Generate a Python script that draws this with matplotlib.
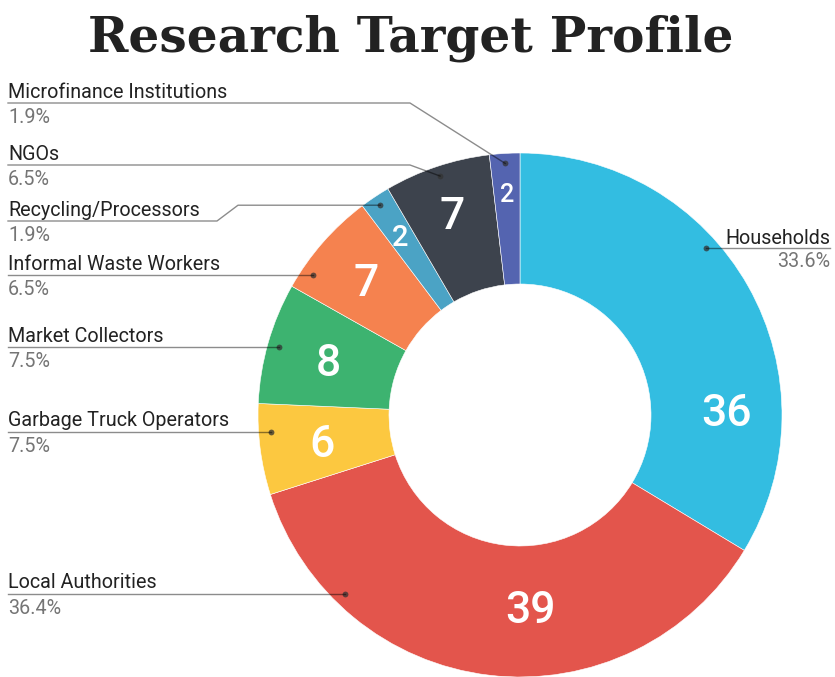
"""Donut chart: research target profile with side callouts."""
import numpy as np
import matplotlib
matplotlib.use("Agg")
import matplotlib.pyplot as plt

categories = ["Households", "Local Authorities", "Garbage Truck Operators",
              "Market Collectors", "Informal Waste Workers", "Recycling/Processors",
              "NGOs", "Microfinance Institutions"]
counts = [36, 39, 6, 8, 7, 2, 7, 2]
pct_labels = ["33.6%", "36.4%", "7.5%", "7.5%", "6.5%", "1.9%", "6.5%", "1.9%"]
colors = ["#33bde1", "#e3554c", "#fcc840", "#3db370", "#f5824f", "#4ba3c5",
          "#3d434d", "#5464b0"]

W, H = 835, 677
CX, CY, R = 520, H - 415, 262
RING = 131

# callout layout, image pixels from the top
line_y = [248, 594, 432, 347, 275, 221, 165, 103]
elbow_x = [None, None, None, None, None, 217, 410, 410]
knee = [False, False, False, False, False, True, False, False]
num_size = [32, 32, 32, 32, 32, 21, 32, 18]
num_r = [207, 192, 200, 199, 205, 216, 213, 222]
num_t = {0: 1.4, 1: -87.0}  # Sheets moves the number in the two big slices
LABEL_FS = 14.2

plt.rcParams["font.family"] = ["Roboto", "DejaVu Sans"]
fig = plt.figure(figsize=(W / 100, H / 100), dpi=100)
ax = fig.add_axes([0, 0, 1, 1])

wedges, _ = ax.pie(counts, colors=colors, center=(CX, CY), radius=R,
                   startangle=90, counterclock=False,
                   wedgeprops=dict(width=RING, edgecolor="white", linewidth=0.4))
ax.set_xlim(0, W)
ax.set_ylim(0, H)
ax.set_aspect("equal")
ax.axis("off")


def in_wedge(t, w):
    return (t - w.theta1) % 360 <= (w.theta2 - w.theta1)


LEAD = (0, 0, 0, 0.45)
for i, w in enumerate(wedges):
    mid = np.radians((w.theta1 + w.theta2) / 2)
    # number inside the ring
    t = np.radians(num_t[i]) if i in num_t else mid
    px = num_size[i] * 100 / 72
    ax.text(CX + num_r[i] * np.cos(t), CY + num_r[i] * np.sin(t) - 0.355 * px,
            str(counts[i]), color="white", fontsize=num_size[i], fontweight=500,
            ha="center", va="baseline")

    # leader dot
    ly = H - line_y[i]
    s = (ly - CY) / 250
    right = i == 0
    ok = False
    if abs(s) <= 1:
        a = np.degrees(np.arcsin(s))
        a = a if right else 180 - a
        ok = in_wedge(a, w)
    if ok:
        dx, dy = CX + 250 * np.cos(np.radians(a)), ly
    else:
        dx, dy = CX + 252 * np.cos(mid), CY + 252 * np.sin(mid)
    ax.plot([dx], [dy], "o", ms=4.2, color=(0.2, 0.2, 0.2, 0.75), mec="none")

    if right:
        ax.plot([dx, 830], [dy, dy], color=LEAD, lw=1)
        ax.text(830, ly + 4.5, categories[i], ha="right", va="baseline",
                fontsize=LABEL_FS, color="#222222")
        ax.text(830, ly - 19, pct_labels[i], ha="right", va="baseline",
                fontsize=LABEL_FS, color="#757575")
        continue

    xs, ys = [8], [ly]
    if elbow_x[i] is not None:
        xs.append(elbow_x[i]); ys.append(ly)
        if knee[i]:
            xs.append(elbow_x[i] + 21); ys.append(dy)
    xs.append(dx); ys.append(dy)
    ax.plot(xs, ys, color=LEAD, lw=1)
    ax.text(8, ly + 5.5, categories[i], ha="left", va="baseline",
            fontsize=LABEL_FS, color="#222222")
    ax.text(8, ly - 20, pct_labels[i], ha="left", va="baseline",
            fontsize=LABEL_FS, color="#757575")

ax.text(411, H - 51, "Research Target Profile", ha="center", va="baseline",
        fontsize=35, fontweight="bold", family="DejaVu Serif", color="#222222")

fig.savefig("out.png", dpi=100)
